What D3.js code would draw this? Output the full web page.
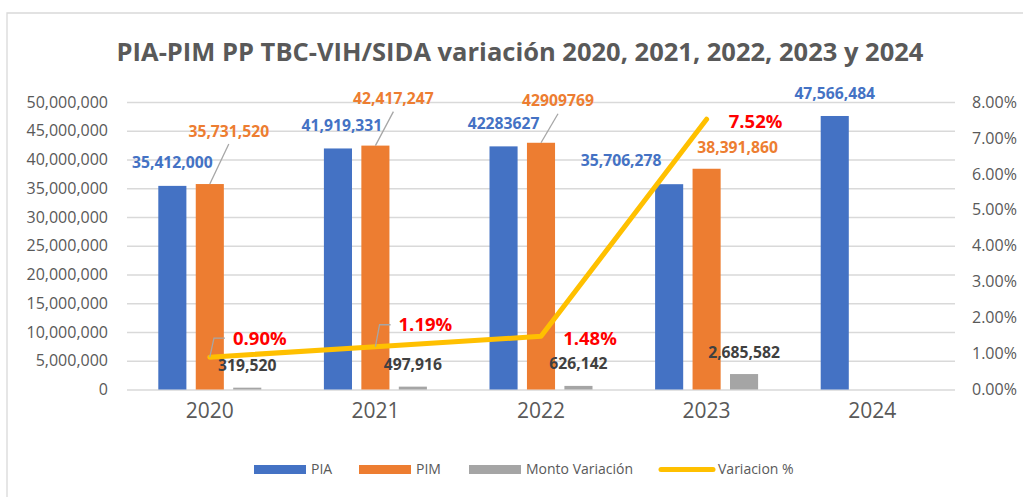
<!DOCTYPE html>
<html><head><meta charset="utf-8">
<script src="https://cdn.jsdelivr.net/npm/d3@7"></script>
<style>
html,body{margin:0;padding:0;background:#fff;}
svg{display:block;font-family:"Open Sans",sans-serif;}
</style></head>
<body>
<svg id="chart" width="1023" height="497"></svg>
<script>
const categories = ["2020","2021","2022","2023","2024"];
const pia = [35412000, 41919331, 42283627, 35706278, 47566484];
const pim = [35731520, 42417247, 42909769, 38391860, null];
const montoVariacion = [319520, 497916, 626142, 2685582, null];
const variacionPct = [0.0090, 0.0119, 0.0148, 0.0752];
const piaLabels = ["35,412,000","41,919,331","42283627","35,706,278","47,566,484"];
const pimLabels = ["35,731,520","42,417,247","42909769","38,391,860",null];
const leftTicks = [0,5e6,10e6,15e6,20e6,25e6,30e6,35e6,40e6,45e6,50e6];
const rightTicks = [0,0.01,0.02,0.03,0.04,0.05,0.06,0.07,0.08];
const seriesNames = ["PIA","PIM","Monto Variación","Variacion %"];
const title = "PIA-PIM PP TBC-VIH/SIDA variación 2020, 2021, 2022, 2023 y 2024";

// label placement offsets (dx,dy relative to mark anchor)
const piaLabelOff = [[0,-23],[4,-23],[0,-23],[-48,-24],[0,-22]];
const pimLabelOff = [[19,-53],[18,-47],[17,-42],[31,-21],null];
const pctLabelOff = [[50,-19],[50,-22],[49,2],[49,2]];
const pctLeader = [true,true,false,false];
const pimLeader = [true,true,true,false,false];

const colors = {pia:"#4472C4", pim:"#ED7D31", gray:"#A5A5A5", line:"#FFC000"};
const svg = d3.select("#chart");
const W = 1023, H = 497;
const m = {left:127, right:955, top:102, bottom:389.5};

svg.append("rect").attr("width",W).attr("height",H).attr("fill","#fff");
svg.append("path").attr("d",`M7,${H}V13H${W}`).attr("fill","none").attr("stroke","#D9D9D9").attr("stroke-width",1.3);

svg.append("text").attr("x",520).attr("y",61).attr("text-anchor","middle")
  .attr("font-size",25.5).attr("font-weight","bold").attr("fill","#595959").text(title);

const x0 = d3.scaleBand().domain(categories).range([m.left,m.right]).paddingInner(0).paddingOuter(0);
const x1 = d3.scaleBand().domain([0,1,2]).range([0,103]).paddingInner(0.25).paddingOuter(0);
const y = d3.scaleLinear().domain([0,50e6]).range([m.bottom,m.top]);
const y2 = d3.scaleLinear().domain([0,0.08]).range([m.bottom,m.top]);
const gx = c => x0(c) + x0.bandwidth()/2 - 51.5;
const cx = c => x0(c) + x0.bandwidth()/2;

// gridlines
const grid = svg.append("g").attr("transform",`translate(${m.left},0)`)
  .call(d3.axisLeft(y).tickValues(leftTicks).tickSize(-(m.right-m.left)).tickFormat(""));
grid.select(".domain").remove();
grid.selectAll("line").attr("stroke","#D9D9D9").attr("stroke-width",1.3);

// left axis
const ya = svg.append("g").attr("transform",`translate(${m.left},0)`)
  .call(d3.axisLeft(y).tickValues(leftTicks).tickSize(0).tickPadding(19).tickFormat(d3.format(",")));
ya.select(".domain").remove();
ya.selectAll("text").attr("font-size",16).attr("fill","#595959").attr("font-family","Open Sans");

// right axis
const yb = svg.append("g").attr("transform",`translate(${m.right},0)`)
  .call(d3.axisRight(y2).tickValues(rightTicks).tickSize(0).tickPadding(17).tickFormat(d3.format(".2%")));
yb.select(".domain").remove();
yb.selectAll("text").attr("font-size",16).attr("fill","#595959").attr("font-family","Open Sans");

// x axis
const xa = svg.append("g").attr("transform",`translate(0,${m.bottom})`)
  .call(d3.axisBottom(x0).tickSize(0).tickPadding(14));
xa.select(".domain").remove();
xa.selectAll("text").attr("font-size",21).attr("fill","#595959").attr("font-family","Open Sans");

// bars
const seriesData = [pia, pim, montoVariacion];
const seriesColors = [colors.pia, colors.pim, colors.gray];
seriesData.forEach((arr,si) => {
  svg.append("g").selectAll("rect")
    .data(categories.map((c,i)=>({c,v:arr[i]})).filter(d=>d.v!=null))
    .join("rect")
    .attr("x", d=>gx(d.c)+x1(si))
    .attr("width", x1.bandwidth())
    .attr("y", d=>y(d.v))
    .attr("height", d=>y(0)-y(d.v))
    .attr("fill", seriesColors[si]);
});

// line
const lineData = variacionPct.map((v,i)=>({c:categories[i],v}));
svg.append("path").datum(lineData)
  .attr("d", d3.line().x(d=>cx(d.c)).y(d=>y2(d.v)))
  .attr("fill","none").attr("stroke",colors.line).attr("stroke-width",5)
  .attr("stroke-linecap","round").attr("stroke-linejoin","round");

const lbl = svg.append("g").attr("font-weight","bold");
// PIA labels
categories.forEach((c,i)=>{
  const bx = gx(c)+x1(0)+x1.bandwidth()/2, by = y(pia[i]);
  lbl.append("text").attr("x",bx+piaLabelOff[i][0]).attr("y",by+piaLabelOff[i][1]).attr("dy","0.35em")
    .attr("text-anchor","middle").attr("font-size",15.7).attr("fill",colors.pia).text(piaLabels[i]);
});
// PIM labels
categories.forEach((c,i)=>{
  if(pim[i]==null) return;
  const bx = gx(c)+x1(1)+x1.bandwidth()/2, by = y(pim[i]);
  const lx = bx+pimLabelOff[i][0], ly = by+pimLabelOff[i][1];
  if(pimLeader[i]) lbl.append("line").attr("x1",lx).attr("y1",ly+13).attr("x2",bx).attr("y2",by)
    .attr("stroke","#A6A6A6").attr("stroke-width",1.3);
  lbl.append("text").attr("x",lx).attr("y",ly).attr("dy","0.35em")
    .attr("text-anchor","middle").attr("font-size",15.7).attr("fill",colors.pim).text(pimLabels[i]);
});
// Monto labels
categories.forEach((c,i)=>{
  if(montoVariacion[i]==null) return;
  const bx = gx(c)+x1(2)+x1.bandwidth()/2, by = y(montoVariacion[i]);
  lbl.append("text").attr("x",bx).attr("y",by-22).attr("dy","0.35em")
    .attr("text-anchor","middle").attr("font-size",15.7).attr("fill","#404040").text(d3.format(",")(montoVariacion[i]));
});
// Pct labels
variacionPct.forEach((v,i)=>{
  const px = cx(categories[i]), py = y2(v);
  const lx = px+pctLabelOff[i][0], ly = py+pctLabelOff[i][1];
  const t = lbl.append("text").attr("x",lx).attr("y",ly).attr("dy","0.35em")
    .attr("text-anchor","middle").attr("font-size",18.5).attr("fill","#FF0000").text(d3.format(".2%")(v));
  if(pctLeader[i]){
    const w = t.node().getComputedTextLength();
    const left = lx - w/2;
    lbl.insert("path","text").attr("d",`M${px},${py}L${left-19},${ly}H${left-8}`)
      .attr("fill","none").attr("stroke","#A6A6A6").attr("stroke-width",1.3);
  }
});

// legend
const leg = svg.append("g").attr("font-size",14).attr("fill","#595959");
const legItems = [
  {name:seriesNames[0], type:"rect", color:colors.pia, x:254},
  {name:seriesNames[1], type:"rect", color:colors.pim, x:359},
  {name:seriesNames[2], type:"rect", color:colors.gray, x:469},
  {name:seriesNames[3], type:"line", color:colors.line, x:661}
];
legItems.forEach(it=>{
  if(it.type==="rect") leg.append("rect").attr("x",it.x).attr("y",465).attr("width",52).attr("height",9).attr("fill",it.color);
  else leg.append("line").attr("x1",it.x).attr("x2",it.x+52).attr("y1",469.5).attr("y2",469.5)
    .attr("stroke",it.color).attr("stroke-width",5).attr("stroke-linecap","round");
  leg.append("text").attr("x",it.x+57).attr("y",469.5).attr("dy","0.35em").text(it.name);
});
</script>
</body></html>
